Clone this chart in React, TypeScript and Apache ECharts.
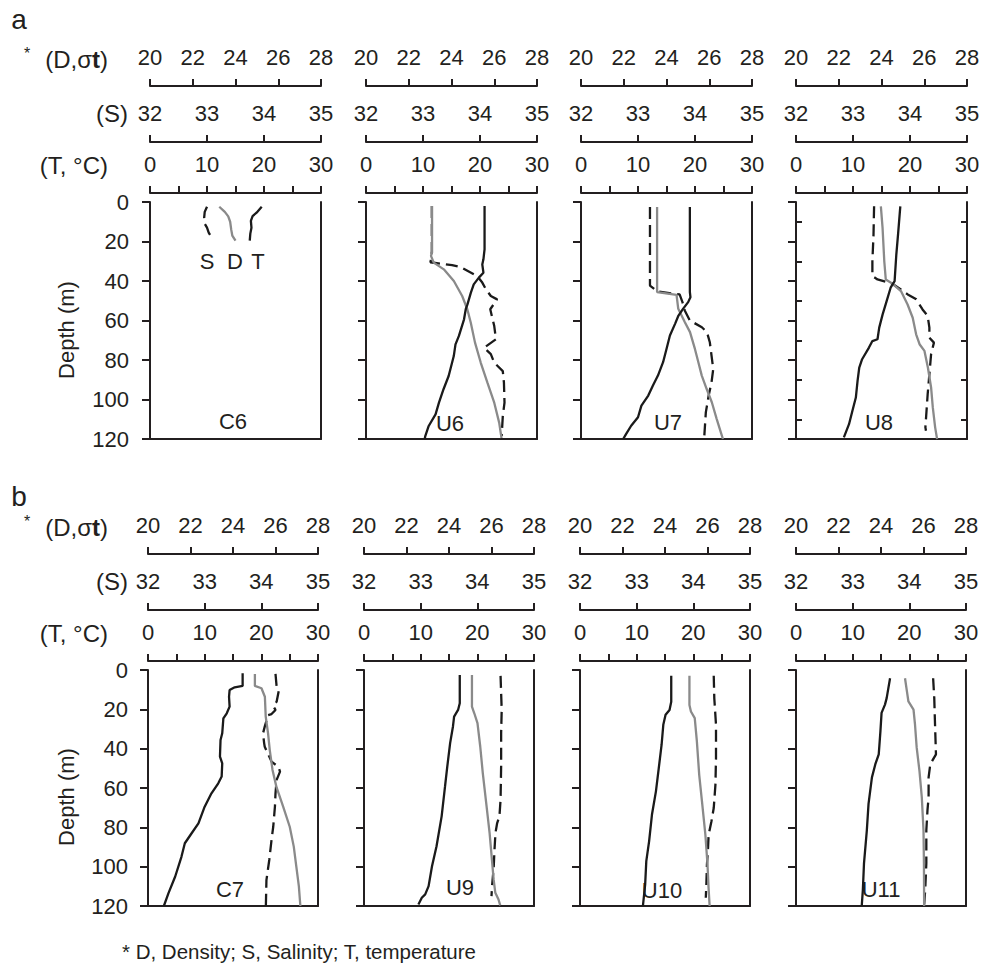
import React, { useEffect, useRef } from 'react';
import * as echarts from 'echarts';

// ---------------- data ----------------
const stations = ['C6', 'U6', 'U7', 'U8', 'C7', 'U9', 'U10', 'U11'];
const tempTickLabels = [0, 10, 20, 30];
const salTickLabels = [32, 33, 34, 35];
const denTickLabels = [20, 22, 24, 26, 28];
const depthTickLabels = [0, 20, 40, 60, 80, 100, 120];
const u8MinorDepthTicks = [10, 30, 50, 70, 90, 110];

// profiles: [value, depth (m)]
const c6T = [[19.6, 2.4], [18.7, 5.4], [18.0, 7.1], [17.7, 9.6], [17.8, 13], [17.6, 16], [17.5, 19.6]];
const c6S = [[33.0, 2.4], [32.96, 5], [32.95, 8], [32.96, 11], [33.0, 13], [33.03, 15.5], [33.07, 17.5], [33.1, 19.2]];
const c6D = [[23.24, 2.4], [23.5, 5], [23.66, 7.3], [23.75, 10], [23.8, 14], [23.85, 17], [24.0, 19.6]];

const u6T = [[20.8, 2], [20.8, 24], [20.6, 29], [20.4, 31.6], [20.6, 35.8], [19.8, 38.3], [18.9, 41.7], [18.4, 45.9], [17.8, 51.8], [17.5, 54.3], [17.2, 59.4], [16.3, 67.8], [15.7, 72.1], [15.4, 78], [14.5, 88.1], [13.6, 94.8], [12.8, 101.6], [12.2, 107.5], [11.0, 113.4], [10.4, 118.5], [10.3, 120]];
const u6S = [[33.155, 2], [33.155, 25], [33.14, 29], [33.13, 30.5], [33.51, 32], [33.66, 33], [33.95, 37.5], [34.04, 40.8], [34.1, 44], [34.19, 47.6], [34.3, 49.3], [34.18, 54.3], [34.25, 62.8], [34.28, 69.5], [34.07, 73.8], [34.19, 77], [34.25, 81.4], [34.4, 85.6], [34.42, 91.5], [34.43, 101.6], [34.4, 108.4], [34.38, 118.5]];
const u6D = [[23.09, 2], [23.09, 25.6], [23.04, 27.3], [23.17, 30.7], [23.64, 34.1], [24.11, 40], [24.5, 47.6], [24.74, 54.3], [24.9, 61], [25.1, 71.2], [25.37, 81.4], [25.68, 91.5], [26.0, 101.6], [26.23, 111.7], [26.34, 119.5]];

const u7T = [[19.1, 2.5], [19.1, 45.6], [19.2, 48.2], [18.8, 50.7], [17.9, 54.1], [17.1, 57.5], [16.5, 61.7], [15.6, 67.6], [15.0, 74.4], [14.4, 81.1], [13.5, 87.9], [12.6, 93], [11.8, 98], [10.6, 103.1], [10.0, 109], [8.8, 113.3], [7.9, 117.5], [7.4, 120]];
const u7S = [[33.21, 2.5], [33.21, 42.3], [33.34, 45.3], [33.73, 46.8], [33.78, 50.7], [33.82, 54.9], [33.91, 60], [34.12, 63.4], [34.21, 65.9], [34.26, 71], [34.29, 77.8], [34.32, 84.5], [34.29, 91.3], [34.24, 98], [34.19, 106.5], [34.16, 120]];
const u7D = [[23.56, 2.5], [23.56, 45.6], [24.47, 47], [24.55, 54.1], [24.86, 60.9], [25.1, 65.9], [25.33, 74.4], [25.49, 81.1], [25.65, 87.9], [25.88, 94.7], [26.12, 101.4], [26.35, 109.9], [26.59, 118.3], [26.64, 120]];

const u8T = [[18.3, 2.2], [17.9, 16.5], [17.6, 26.6], [17.3, 40.1], [16.6, 43.4], [15.9, 50.2], [15.2, 56.9], [14.6, 63.6], [14.3, 69.5], [13.4, 70.4], [12.8, 73.7], [11.6, 79.6], [11.1, 83.8], [10.8, 90.6], [10.5, 99], [9.9, 105.7], [9.3, 112.5], [8.4, 119.2]];
const u8S = [[33.37, 2.2], [33.36, 16.5], [33.34, 30], [33.34, 37.5], [33.43, 39.2], [33.49, 39.7], [33.69, 41.4], [33.84, 44.3], [33.96, 46.8], [34.11, 49.3], [34.22, 54.4], [34.31, 57.7], [34.34, 63.6], [34.34, 68.7], [34.42, 71.2], [34.37, 77.1], [34.34, 87.2], [34.31, 97.3], [34.29, 105.7], [34.27, 114.1], [34.28, 115.8]];
const u8D = [[23.97, 2.2], [24.05, 13.1], [24.13, 30], [24.2, 39.2], [24.52, 41.4], [24.91, 45.1], [25.22, 51.9], [25.46, 58.6], [25.62, 67], [25.78, 72], [26.01, 75.4], [26.17, 83.8], [26.32, 93.9], [26.4, 104], [26.51, 114.1], [26.6, 120]];

const c7T = [[16.7, 1.7], [16.7, 8.1], [15.3, 8.8], [14.4, 10.2], [14.3, 13.6], [14.4, 18.6], [13.9, 22], [13.3, 24.6], [13.1, 32.2], [12.8, 35.6], [12.7, 44], [13.1, 47.5], [13.0, 54.2], [12.4, 57.6], [11.2, 62.7], [10.0, 69.5], [8.9, 78], [7.7, 83], [6.5, 88.1], [5.9, 95], [4.8, 105], [3.6, 113.6], [2.8, 120]];
const c7S = [[34.25, 2], [34.27, 8.5], [34.31, 10.2], [34.27, 16.1], [34.21, 18.3], [34.25, 20.3], [34.18, 22.4], [34.12, 22.9], [34.06, 28.8], [34.03, 32.2], [34.05, 37.3], [34.06, 39], [34.18, 46.6], [34.3, 49.2], [34.33, 51.7], [34.27, 55.9], [34.25, 62.7], [34.24, 69.5], [34.21, 79.7], [34.18, 86.4], [34.14, 96.6], [34.09, 106.8], [34.08, 120]];
const c7D = [[25.03, 2], [25.03, 8.1], [25.34, 9.3], [25.5, 13.6], [25.54, 23.7], [25.65, 32.2], [25.73, 40.7], [25.86, 50.8], [26.04, 59.3], [26.36, 69.5], [26.67, 79.7], [26.86, 89.8], [26.98, 100], [27.1, 110], [27.17, 120]];

const u9T = [[16.9, 2.5], [16.9, 16.9], [16.6, 20.3], [15.9, 23.7], [15.7, 28.7], [15.2, 37.2], [14.7, 49], [14.3, 59.2], [13.7, 74.4], [12.8, 89.6], [12.0, 99.8], [11.4, 109.9], [10.8, 114.1], [10.2, 115.8], [9.6, 119.2]];
const u9S = [[34.41, 3], [34.42, 11.8], [34.43, 20.3], [34.42, 32.1], [34.42, 49], [34.41, 65.9], [34.39, 74.4], [34.35, 77.8], [34.32, 82.8], [34.3, 93], [34.29, 99.8], [34.26, 109.9], [34.25, 115]];
const u9D = [[25.08, 2.5], [25.08, 18.6], [25.19, 22], [25.34, 27], [25.47, 38.9], [25.59, 52.4], [25.75, 67.6], [25.91, 82.8], [26.02, 96.4], [26.1, 106.5], [26.18, 113.3], [26.33, 116.7], [26.41, 119.7]];

const u10T = [[16.1, 2.9], [16.1, 16.1], [15.8, 20.3], [15.1, 22.8], [14.7, 27.9], [14.4, 38], [13.9, 49.9], [13.4, 61.7], [12.7, 73.5], [12.2, 87], [11.7, 97.2], [11.5, 109], [11.1, 120]];
const u10S = [[34.36, 2.9], [34.37, 14.4], [34.4, 27.9], [34.4, 44.8], [34.39, 58.3], [34.36, 70.2], [34.32, 76.9], [34.27, 83.7], [34.26, 90.4], [34.24, 98.9], [34.23, 109], [34.22, 115.8]];
const u10D = [[25.15, 2.9], [25.15, 17.8], [25.22, 21.1], [25.4, 24.5], [25.5, 36.3], [25.61, 53.3], [25.74, 66.8], [25.9, 83.7], [26.0, 98.9], [26.05, 110.7], [26.1, 120]];

const u11T = [[16.6, 4.2], [16.3, 9.2], [16.0, 14.3], [15.7, 17.6], [15.1, 21.8], [14.9, 31.1], [14.6, 42.9], [14.0, 47.9], [13.4, 54.6], [12.8, 68.1], [12.5, 81.5], [12.0, 98.3], [11.8, 111.8], [11.6, 120]];
const u11S = [[34.42, 4.2], [34.44, 14.3], [34.45, 24.4], [34.47, 42.9], [34.37, 47.9], [34.34, 54.6], [34.34, 64.7], [34.32, 71.4], [34.3, 81.5], [34.3, 98.3], [34.28, 111.8], [34.26, 120]];
const u11D = [[25.13, 4.2], [25.22, 10.9], [25.29, 16], [25.53, 20.2], [25.6, 27.7], [25.68, 39.5], [25.81, 51.3], [25.92, 64.7], [26.0, 81.5], [26.02, 98.3], [26.03, 120]];

const temps = [c6T, u6T, u7T, u8T, c7T, u9T, u10T, u11T];
const salts = [c6S, u6S, u7S, u8S, c7S, u9S, u10S, u11S];
const dens = [c6D, u6D, u7D, u8D, c7D, u9D, u10D, u11D];

// ---------------- layout / style ----------------
const FONT = "'Liberation Sans', Arial, Helvetica, sans-serif";
const AX = '#231f20';
const BLACK = '#1a1a1a';
const GRAY = '#8a8a8a';
const FS = 22;
const FS_ROW = 24;

const rows = [
  { top: 202, height: 237, lefts: [150, 366, 581, 796], width: 171, tOff: 9, sOff: 60, dOff: 116, lblMargin: 18, yMargin: 21,
    rowY: { d: 59, s: 113, t: 165, star: 53, letter: 19 }, letter: 'a', depthY: 330,
    names: [[233, 421], [450, 423], [668, 422], [879, 422]] },
  { top: 670, height: 236, lefts: [148, 364, 580, 796], width: 170, tOff: 9, sOff: 60, dOff: 116, lblMargin: 18, yMargin: 20,
    rowY: { d: 527, s: 581, t: 633, star: 521, letter: 496 }, letter: 'b', depthY: 797,
    names: [[230, 889], [460, 887], [662, 890], [881, 889]] },
];

function buildOption() {
  const grid: any[] = [];
  const xAxis: any[] = [];
  const yAxis: any[] = [];
  const series: any[] = [];
  const graphic: any[] = [];
  const lineStyle = { color: AX, width: 2 };
  const label = { fontSize: FS, color: AX, fontFamily: FONT };

  rows.forEach((row, r) => {
    row.lefts.forEach((left, c) => {
      const gi = r * 4 + c;
      grid.push({ left, top: row.top, width: row.width, height: row.height, outerBoundsMode: 'none', containLabel: false });
      const topAxis = (offset: number, min: number, max: number, interval: number, labels: number[]) => ({
        gridIndex: gi, type: 'value', position: 'top', offset, min, max, interval,
        axisLine: { show: true, onZero: false, lineStyle },
        axisTick: { show: true, inside: false, length: 7, lineStyle },
        axisLabel: { ...label, margin: row.lblMargin, showMinLabel: true, showMaxLabel: true,
          formatter: (v: number) => (labels.some((l) => Math.abs(l - v) < 1e-6) ? String(v) : '') },
        splitLine: { show: false },
      });
      const tIdx = xAxis.length;
      xAxis.push(topAxis(row.tOff, 0, 30, 5, tempTickLabels));
      const sIdx = xAxis.length;
      xAxis.push(topAxis(row.sOff, 32, 35, 1, salTickLabels));
      const dIdx = xAxis.length;
      xAxis.push(topAxis(row.dOff, 20, 28, 2, denTickLabels));
      xAxis.push({
        gridIndex: gi, type: 'value', position: 'bottom', min: 0, max: 30,
        axisLine: { show: true, onZero: false, lineStyle }, axisTick: { show: false },
        axisLabel: { show: false }, splitLine: { show: false },
      });
      const yIdx = yAxis.length;
      yAxis.push({
        gridIndex: gi, type: 'value', inverse: true, min: 0, max: 120, interval: 20, position: 'left',
        axisLine: { show: true, onZero: false, lineStyle },
        axisTick: { show: true, inside: false, length: 8, lineStyle },
        axisLabel: { ...label, show: c === 0, margin: row.yMargin,
          formatter: (v: number) => (depthTickLabels.includes(v) ? String(v) : '') },
        splitLine: { show: false },
      });
      const isU8 = stations[gi] === 'U8';
      yAxis.push({
        gridIndex: gi, type: 'value', inverse: true, min: 0, max: 120, position: 'right',
        axisLine: { show: true, onZero: false, lineStyle },
        axisTick: isU8 ? { show: true, inside: true, length: 6, lineStyle, customValues: u8MinorDepthTicks } : { show: false },
        axisLabel: { show: false }, splitLine: { show: false },
      });
      if (isU8) {
        yAxis.push({
          gridIndex: gi, type: 'value', inverse: true, min: 0, max: 120, position: 'left',
          axisLine: { show: false, onZero: false },
          axisTick: { show: true, inside: true, length: 6, lineStyle, customValues: u8MinorDepthTicks },
          axisLabel: { show: false }, splitLine: { show: false },
        });
      }
      series.push({
        type: 'line', name: stations[gi] + ' S', xAxisIndex: sIdx, yAxisIndex: yIdx, data: salts[gi],
        symbol: 'none', z: 2, lineStyle: { color: BLACK, width: 2.3, type: [12, 6] },
      });
      series.push({
        type: 'line', name: stations[gi] + ' D', xAxisIndex: dIdx, yAxisIndex: yIdx, data: dens[gi],
        symbol: 'none', z: 3, lineStyle: { color: GRAY, width: 2.3 },
      });
      series.push({
        type: 'line', name: stations[gi] + ' T', xAxisIndex: tIdx, yAxisIndex: yIdx, data: temps[gi],
        symbol: 'none', z: 4, lineStyle: { color: BLACK, width: 2.3 },
      });
      const [nx, ny] = row.names[c];
      graphic.push({ type: 'text', x: nx, y: ny, style: { text: stations[gi], fontSize: FS, fontFamily: FONT, fill: AX, align: 'center', verticalAlign: 'middle' } });
    });

    const ry = row.rowY;
    graphic.push({ type: 'text', x: 19, y: ry.letter, style: { text: row.letter, fontSize: 28, fontFamily: FONT, fill: AX, align: 'center', verticalAlign: 'middle' } });
    graphic.push({ type: 'text', x: 27, y: ry.star, style: { text: '*', fontSize: 16, fontFamily: FONT, fill: AX, align: 'center', verticalAlign: 'middle' } });
    graphic.push({ type: 'text', x: 108, y: ry.d, style: { text: '(D,σ{b|t})', rich: { b: { fontSize: FS_ROW, fontWeight: 'bold', fontFamily: FONT, fill: AX } }, fontSize: FS_ROW, fontFamily: FONT, fill: AX, align: 'right', verticalAlign: 'middle' } });
    graphic.push({ type: 'text', x: 128, y: ry.s, style: { text: '(S)', fontSize: FS_ROW, fontFamily: FONT, fill: AX, align: 'right', verticalAlign: 'middle' } });
    graphic.push({ type: 'text', x: 108, y: ry.t, style: { text: '(T, °C)', fontSize: FS_ROW, fontFamily: FONT, fill: AX, align: 'right', verticalAlign: 'middle' } });
    graphic.push({ type: 'text', x: 66, y: row.depthY, rotation: Math.PI / 2, style: { text: 'Depth (m)', fontSize: FS, fontFamily: FONT, fill: AX, align: 'center', verticalAlign: 'middle' } });
  });

  // C6 legend letters
  graphic.push({ type: 'text', x: 207, y: 261, style: { text: 'S', fontSize: FS, fontFamily: FONT, fill: AX, align: 'center', verticalAlign: 'middle' } });
  graphic.push({ type: 'text', x: 235, y: 261, style: { text: 'D', fontSize: FS, fontFamily: FONT, fill: AX, align: 'center', verticalAlign: 'middle' } });
  graphic.push({ type: 'text', x: 258, y: 261, style: { text: 'T', fontSize: FS, fontFamily: FONT, fill: AX, align: 'center', verticalAlign: 'middle' } });
  // footnote
  graphic.push({ type: 'text', x: 122, y: 951, style: { text: '* D, Density; S, Salinity; T, temperature', fontSize: 20.5, fontFamily: FONT, fill: AX, align: 'left', verticalAlign: 'middle' } });

  return {
    animation: false,
    backgroundColor: '#ffffff',
    grid, xAxis, yAxis, series, graphic,
  };
}

export default function App() {
  const ref = useRef<HTMLDivElement>(null);
  useEffect(() => {
    document.body.style.margin = '0';
    if (!ref.current) return;
    const chart = echarts.init(ref.current, undefined, { renderer: 'svg' });
    chart.setOption(buildOption() as any);
    return () => chart.dispose();
  }, []);
  return <div ref={ref} style={{ width: 981, height: 971 }} />;
}
